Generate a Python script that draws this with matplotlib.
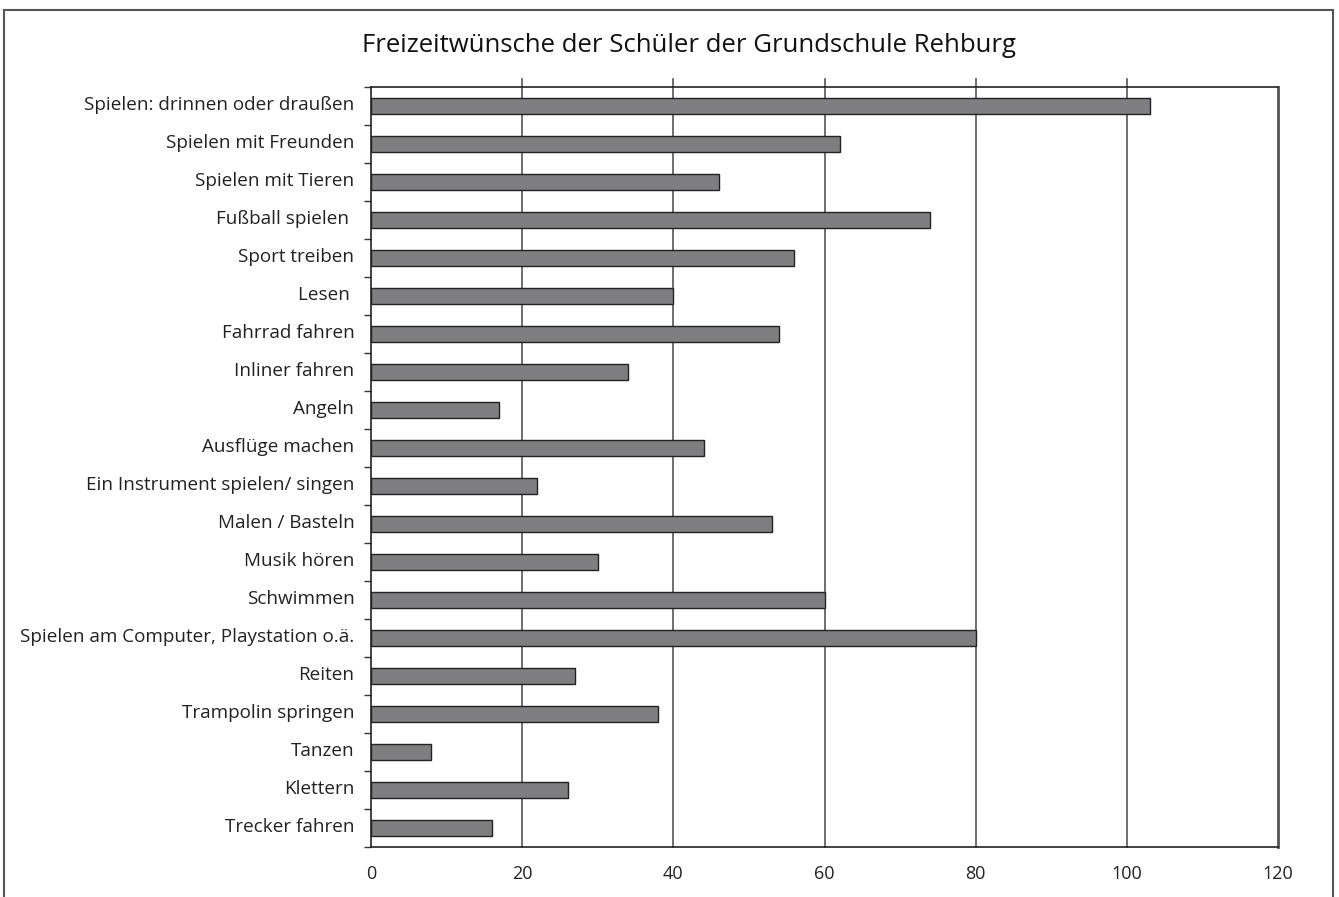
import matplotlib.pyplot as plt
import numpy as np

plt.rcParams['font.family'] = ['Open Sans', 'DejaVu Sans']

categories = [
    "Spielen: drinnen oder draußen",
    "Spielen mit Freunden",
    "Spielen mit Tieren",
    "Fußball spielen ",
    "Sport treiben",
    "Lesen ",
    "Fahrrad fahren",
    "Inliner fahren",
    "Angeln",
    "Ausflüge machen",
    "Ein Instrument spielen/ singen",
    "Malen / Basteln",
    "Musik hören",
    "Schwimmen",
    "Spielen am Computer, Playstation o.ä.",
    "Reiten",
    "Trampolin springen",
    "Tanzen",
    "Klettern",
    "Trecker fahren",
]
values = [103, 62, 46, 74, 56, 40, 54, 34, 17, 44, 22, 53, 30, 60, 80, 27, 38, 8, 26, 16]
xticks = [0, 20, 40, 60, 80, 100, 120]

fig = plt.figure(figsize=(13.39, 8.97), dpi=100)
ax = fig.add_axes([371 / 1339, 1 - 847 / 897, 907 / 1339, 760 / 897])

y = np.arange(len(categories))
ax.barh(y, values, height=0.4, color='#7f7f82', edgecolor='#222222', linewidth=1.0, zorder=3)

ax.set_xlim(0, 120)
ax.set_ylim(len(categories) - 0.5, -0.5)
ax.set_xticks(xticks)
ax.set_xticklabels([str(t) for t in xticks], fontsize=13, color='#222222')
ax.tick_params(axis='x', length=0, pad=13)

# category labels without tick marks, tick marks between categories
ax.set_yticks(y - 0.07)
ax.set_yticklabels(categories, fontsize=13.6, color='#222222')
ax.tick_params(axis='y', which='major', length=0, pad=12)
ax.set_yticks(np.arange(len(categories) + 1) - 0.5, minor=True)
ax.tick_params(axis='y', which='minor', length=5, width=1, color='#333333')

# gridlines, poking a little above the top of the frame
for t in xticks[1:-1]:
    ax.axvline(t, ymin=0, ymax=1.01, color='#555555', linewidth=1.2, zorder=1, clip_on=False)

for s in ax.spines.values():
    s.set_color('#222222')
    s.set_linewidth(1.2)
ax.spines['right'].set_color('#555555')
ax.spines['right'].set_linewidth(2)

fig.text(689 / 1339, 1 - 45 / 897, "Freizeitwünsche der Schüler der Grundschule Rehburg",
         ha='center', va='center', fontsize=18.5, color='#111111', fontweight='medium')

# outer frame
fig.add_artist(plt.Rectangle((4 / 1339, -0.02), 1329 / 1339, 1.02 - 10 / 897,
                             transform=fig.transFigure, fill=False,
                             edgecolor='#555555', linewidth=1.5))

fig.savefig('out.png', dpi=100)
